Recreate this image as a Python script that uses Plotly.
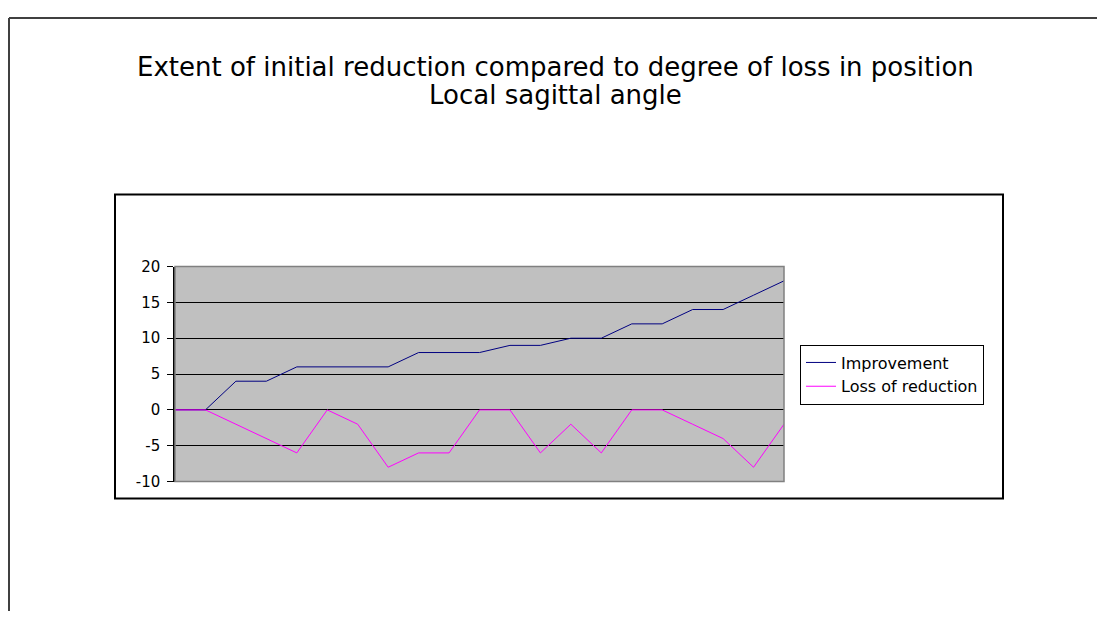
import plotly.graph_objects as go

# Page is 1105x622 with an 8px body margin, so the figure itself is smaller
W, H = 1089, 606
OFF = 8
# the photo squeezes the page a bit vertically: shot_y = Y0 + SY * page_y
Y0, SY = 8.8, 0.970

# Data
points = list(range(1, 22))
improvement = [0, 0, 4, 4, 6, 6, 6, 6, 8, 8, 8, 9, 9, 10, 10, 12, 12, 14, 14, 16, 18]
loss_of_reduction = [0, 0, -2, -4, -6, 0, -2, -8, -6, -6, 0, 0, -6, -2, -6, 0, 0, -2, -4, -8, -2]
y_ticks = [-10, -5, 0, 5, 10, 15, 20]
y_tick_labels = ["-10", "-5", "0", "5", "10", "15", "20"]

title_line1 = "Extent of initial reduction compared to degree of loss in position"
title_line2 = "Local sagittal angle"

FONT = "DejaVu Sans, Liberation Sans, Arial, sans-serif"


def px_x(p):
    # reference pixel -> paper x
    return (p - OFF) / W


def px_y(p):
    fig_y = (p - Y0) / SY - OFF
    return 1 - fig_y / H


fig = go.Figure()

fig.add_trace(go.Scatter(
    x=points, y=improvement, mode="lines", name="Improvement",
    line=dict(color="#000080", width=1),
))
fig.add_trace(go.Scatter(
    x=points, y=loss_of_reduction, mode="lines", name="Loss of reduction",
    line=dict(color="#FF00FF", width=1),
))

# Plot area border (gray) and chart frames
fig.add_shape(type="rect", xref="x domain", yref="y domain", x0=0, x1=1, y0=0, y1=1,
              line=dict(color="#808080", width=1.5), layer="above")
fig.add_shape(type="rect", xref="paper", yref="paper",
              x0=px_x(115), x1=px_x(1003), y0=px_y(498), y1=px_y(194),
              line=dict(color="black", width=2))
fig.add_shape(type="line", xref="paper", yref="paper",
              x0=1 / W, x1=1.01, y0=1 - 1 / H, y1=1 - 1 / H,
              line=dict(color="#404040", width=2))
fig.add_shape(type="line", xref="paper", yref="paper",
              x0=1 / W, x1=1 / W, y0=1 - 1 / H, y1=-0.01,
              line=dict(color="#404040", width=2))

fig.add_annotation(
    text=title_line1, xref="paper", yref="paper",
    x=px_x(555), y=px_y(67), xanchor="center", yanchor="middle",
    showarrow=False, font=dict(family=FONT, size=26, color="black"),
)
fig.add_annotation(
    text=title_line2, xref="paper", yref="paper",
    x=px_x(555), y=px_y(95), xanchor="center", yanchor="middle",
    showarrow=False, font=dict(family=FONT, size=26, color="black"),
)

fig.update_layout(
    width=W, height=H,
    margin=dict(l=0, r=0, t=0, b=0),
    paper_bgcolor="white",
    plot_bgcolor="#C0C0C0",
    font=dict(family=FONT, size=15, color="black"),
    showlegend=True,
    legend=dict(
        x=px_x(800), y=px_y(374), xanchor="left", yanchor="middle",
        bordercolor="black", borderwidth=1, bgcolor="white",
        font=dict(family=FONT, size=16), tracegroupgap=0,
        itemwidth=30,
    ),
    xaxis=dict(
        domain=[px_x(175), px_x(784)],
        range=[1, 21], showticklabels=False, showgrid=False,
        zeroline=False, showline=False, ticks="",
    ),
    yaxis=dict(
        domain=[px_y(481), px_y(266)],
        range=[-10, 20], tickvals=y_ticks, ticktext=y_tick_labels,
        showgrid=True, gridcolor="black", gridwidth=1,
        zeroline=True, zerolinecolor="black", zerolinewidth=1,
        showline=True, linecolor="black", linewidth=1.5,
        ticks="outside", ticklen=6, tickcolor="black",
        ticklabelstandoff=4,
        tickfont=dict(family=FONT, size=15),
    ),
)

fig.write_html("out.html")
